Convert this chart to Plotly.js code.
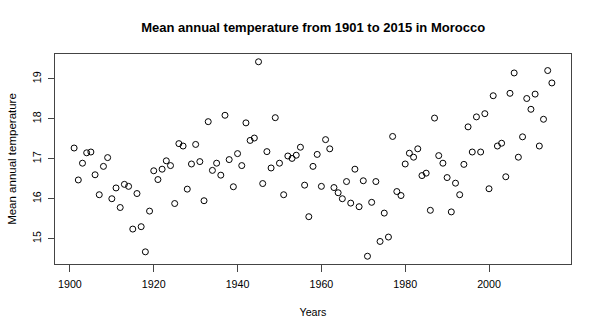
<!DOCTYPE html>
<html>
<head>
<meta charset="utf-8">
<script src="https://cdn.plot.ly/plotly-3.0.1.min.js"></script>
<style>
  body { margin: 0; background: #fff; }
  #chart { width: 599px; height: 333px; }
</style>
</head>
<body>
<div id="chart"></div>
<script>
// Years 1901..2015, one reading per year
const startYear = 1901;
const endYear = 2015;

// Mean annual temperature
const temps = [
    17.27, 16.47, 16.89, 17.15, 17.17, 16.60, 16.10, 16.81, 17.03, 16.00, // 1901-1910
    16.27, 15.78, 16.36, 16.31, 15.24, 16.13, 15.30, 14.67, 15.69, 16.70, // 1911-1920
    16.48, 16.74, 16.95, 16.83, 15.88, 17.38, 17.32, 16.24, 16.87, 17.36, // 1921-1930
    16.93, 15.95, 17.93, 16.71, 16.89, 16.59, 18.09, 16.98, 16.30, 17.13, // 1931-1940
    16.83, 17.90, 17.46, 17.52, 19.43, 16.38, 17.18, 16.77, 18.03, 16.89, // 1941-1950
    16.10, 17.07, 17.01, 17.09, 17.29, 16.34, 15.55, 16.81, 17.11, 16.31, // 1951-1960
    17.48, 17.25, 16.28, 16.15, 16.00, 16.43, 15.89, 16.74, 15.80, 16.45, // 1961-1970
    14.56, 15.91, 16.43, 14.93, 15.64, 15.04, 17.56, 16.18, 16.08, 16.87, // 1971-1980
    17.14, 17.04, 17.25, 16.58, 16.64, 15.71, 18.02, 17.08, 16.89, 16.53, // 1981-1990
    15.67, 16.39, 16.10, 16.86, 17.80, 17.17, 18.05, 17.17, 18.13, 16.25, // 1991-2000
    18.58, 17.32, 17.39, 16.55, 18.64, 19.15, 17.04, 17.55, 18.51, 18.24, // 2001-2010
    18.62, 17.32, 17.99, 19.21, 18.90                                      // 2011-2015
];

const years = [];
for (let y = startYear; y <= endYear; y++) years.push(y);

const xTicks = [1900, 1920, 1940, 1960, 1980, 2000];
const yTicks = [15, 16, 17, 18, 19];

// R-style 4% padding around the data range
function padRange(vals) {
    const lo = Math.min(...vals), hi = Math.max(...vals);
    const pad = (hi - lo) * 0.04;
    return [lo - pad, hi + pad];
}

const trace = {
    x: years,
    y: temps,
    type: "scatter",
    mode: "markers",
    marker: {
        symbol: "circle-open",
        size: 6,
        color: "#000",
        line: { width: 1, color: "#000" }
    },
    hovertemplate: "%{x}: %{y}<extra></extra>"
};

const fontFam = "Liberation Sans, Arial, sans-serif";
const tickFont = { family: fontFam, size: 10.7, color: "#000" };

const layout = {
    width: 599,
    height: 333,
    paper_bgcolor: "#fff",
    plot_bgcolor: "#fff",
    showlegend: false,
    margin: { l: 55, r: 28, t: 54, b: 69 },
    title: {
        text: "<b>Mean annual temperature from 1901 to 2015 in Morocco</b>",
        font: { family: fontFam, size: 13, color: "#000" },
        x: 0.5228,
        xanchor: "center",
        y: 0.918,
        yanchor: "middle"
    },
    xaxis: {
        range: padRange(years),
        tickvals: xTicks,
        ticktext: xTicks.map(String),
        ticks: "outside",
        ticklen: 7,
        tickcolor: "#444",
        tickfont: tickFont,
        ticklabelstandoff: 3,
        showgrid: false,
        zeroline: false,
        showline: true,
        mirror: true,
        linecolor: "#444",
        linewidth: 1,
        title: { text: "Years", font: tickFont, standoff: 19 },
        automargin: false
    },
    yaxis: {
        range: padRange(temps),
        tickvals: yTicks,
        ticktext: yTicks.map(String),
        tickangle: -90,
        ticks: "outside",
        ticklen: 6,
        tickcolor: "#444",
        tickfont: tickFont,
        ticklabelstandoff: 3,
        showgrid: false,
        zeroline: false,
        showline: true,
        mirror: true,
        linecolor: "#444",
        linewidth: 1,
        title: { text: "Mean annual temperature", font: { family: fontFam, size: 11.5, color: "#000" }, standoff: 11 },
        automargin: false
    }
};

Plotly.newPlot("chart", [trace], layout, { displayModeBar: false, staticPlot: true });
</script>
</body>
</html>
